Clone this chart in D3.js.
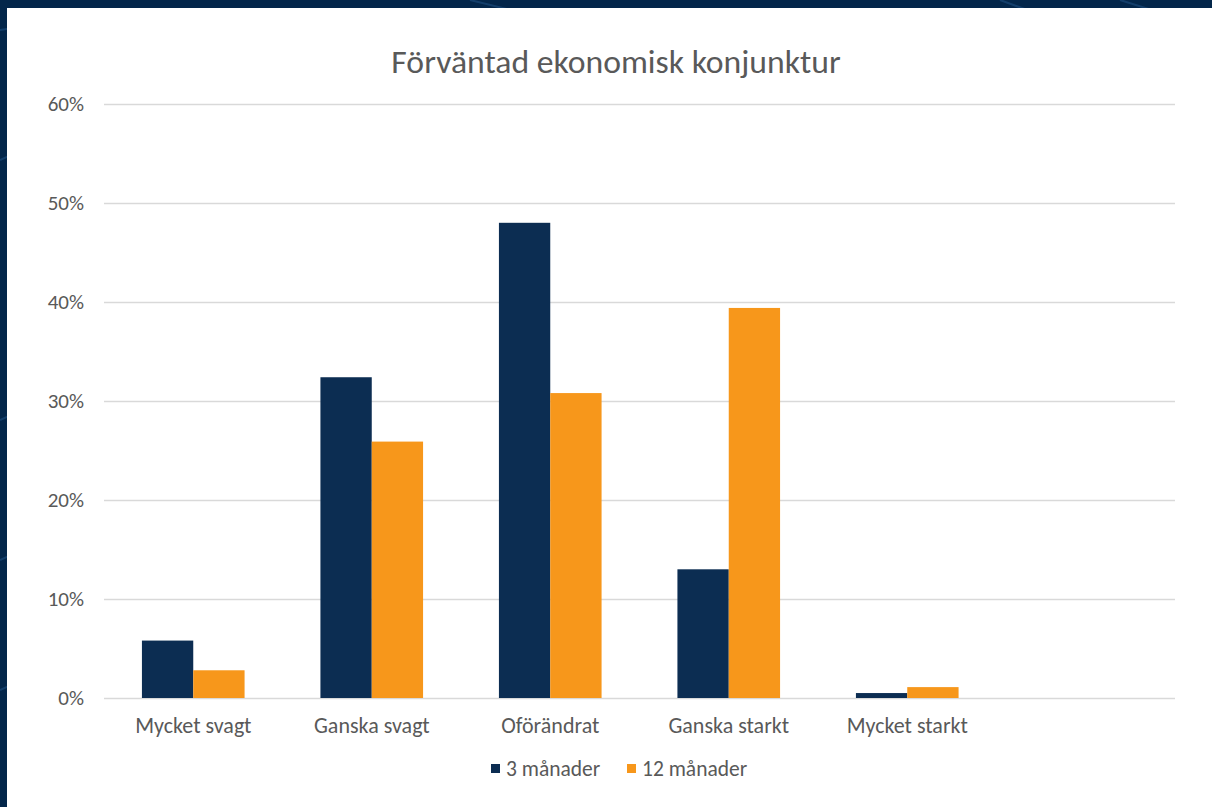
<!DOCTYPE html>
<html><head><meta charset="utf-8">
<script src="https://cdn.jsdelivr.net/npm/d3@7"></script>
<style>html,body{margin:0;padding:0;background:#03264a;overflow:hidden}</style>
</head><body>
<svg id="chart" width="1212" height="807"></svg>
<script>
const categories = ["Mycket svagt", "Ganska svagt", "Oförändrat", "Ganska starkt", "Mycket starkt", ""];
const seriesNames = ["3 månader", "12 månader"];
const values3m = [5.8, 32.4, 48.0, 13.0, 0.5, null];
const values12m = [2.8, 25.9, 30.8, 39.4, 1.1, null];
const yTicks = [0, 10, 20, 30, 40, 50, 60];
const colors = ["#0c2d52", "#f7971b"];

const svg = d3.select("#chart");
const W = 1212, H = 807;
svg.append("rect").attr("width", W).attr("height", H).attr("fill", "#03264a");
const streaks = [[0,30,80,18],[0,160,22,150],[0,420,22,410],[0,560,22,550],[0,690,22,680],[470,0,560,22],[1120,0,1190,22],[1000,0,1060,22]];
svg.selectAll("line.streak").data(streaks).join("line").attr("class","streak")
  .attr("x1", d=>d[0]).attr("y1", d=>d[1]).attr("x2", d=>d[2]).attr("y2", d=>d[3])
  .attr("stroke", "#1f4f80").attr("stroke-width", 2).attr("opacity", 0.6);
svg.append("rect").attr("x", 7).attr("y", 8).attr("width", W - 7).attr("height", H - 8).attr("fill", "#ffffff");

const margin = {left: 104, right: 1175, top: 104, bottom: 698};
const x = d3.scaleBand().domain(categories.map((c,i)=>i)).range([margin.left, margin.right]).paddingInner(0).paddingOuter(0);
const y = d3.scaleLinear().domain([0, 60]).range([margin.bottom, margin.top]);
const groupFrac = 0.575;
const x1 = d3.scaleBand().domain([0,1]).range([0, x.bandwidth() * groupFrac]);

const font = "Carlito, Lato, 'Open Sans', sans-serif";
const textColor = "#595959";

svg.append("g").selectAll("line").data(yTicks).join("line")
  .attr("x1", margin.left).attr("x2", margin.right)
  .attr("y1", d => Math.round(y(d)) + 0.5).attr("y2", d => Math.round(y(d)) + 0.5)
  .attr("stroke", "#d9d9d9").attr("stroke-width", 1.3);

const yAxis = d3.axisLeft(y).tickValues(yTicks).tickFormat(d => d + "%").tickSize(0).tickPadding(0);
const gy = svg.append("g").attr("transform", `translate(84,0)`).call(yAxis);
gy.select(".domain").remove();
gy.selectAll("text").attr("font-family", font).attr("font-size", 21).attr("fill", textColor);

const data = categories.map((c, i) => ({i, vals: [values3m[i], values12m[i]]}));
const groups = svg.append("g").selectAll("g").data(data).join("g")
  .attr("transform", d => `translate(${x(d.i) + x.bandwidth() * (1 - groupFrac) / 2},0)`);
groups.selectAll("rect").data(d => d.vals.map((v, s) => ({v, s})).filter(e => e.v != null)).join("rect")
  .attr("x", e => x1(e.s)).attr("width", x1.bandwidth())
  .attr("y", e => y(e.v)).attr("height", e => y(0) - y(e.v))
  .attr("fill", e => colors[e.s]);

const xAxis = d3.axisBottom(x).tickFormat(i => categories[i]).tickSize(0).tickPadding(0);
const gx = svg.append("g").attr("transform", `translate(0,717)`).call(xAxis);
gx.select(".domain").remove();
gx.selectAll("text").attr("font-family", font).attr("font-size", 22).attr("fill", textColor);

svg.append("text").attr("x", 616).attr("y", 73).attr("text-anchor", "middle")
  .attr("font-family", font).attr("font-size", 33.7).attr("fill", textColor)
  .text("Förväntad ekonomisk konjunktur");

const legendX = [491, 627];
const lg = svg.append("g").selectAll("g").data(seriesNames).join("g")
  .attr("transform", (d, i) => `translate(${legendX[i]},769)`);
lg.append("rect").attr("x", 0).attr("y", -5).attr("width", 9).attr("height", 9).attr("fill", (d, i) => colors[i]);
lg.append("text").attr("x", 15).attr("y", 7).attr("font-family", font).attr("font-size", 21.5).attr("fill", textColor).text(d => d);
</script>
</body></html>
